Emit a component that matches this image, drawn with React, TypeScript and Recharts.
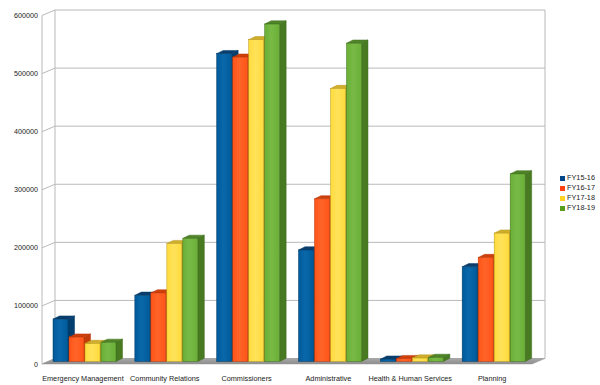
import React from 'react';
import { BarChart, Bar, XAxis, YAxis, CartesianGrid, Legend } from 'recharts';

const categories = [
  'Emergency Management',
  'Community Relations',
  'Commissioners',
  'Administrative',
  'Health & Human Services',
  'Planning',
];
const fy1516 = [73000, 114000, 530000, 192000, 4000, 163000];
const fy1617 = [42000, 118000, 524000, 280000, 5000, 179000];
const fy1718 = [31000, 203000, 554000, 470000, 6000, 221000];
const fy1819 = [33000, 212000, 581000, 548000, 7000, 323000];
const seriesNames = ['FY15-16', 'FY16-17', 'FY17-18', 'FY18-19'];
const yTicks = [0, 100000, 200000, 300000, 400000, 500000, 600000];

const data = categories.map((name, i) => ({
  name,
  s0: fy1516[i],
  s1: fy1617[i],
  s2: fy1718[i],
  s3: fy1819[i],
}));

// front / light highlight / side / top / edge
const palette = [
  { front: '#005a9a', light: '#0a68aa', side: '#003f70', top: '#0b3e6c', edge: '#003866', key: '#004586' },
  { front: '#ff5418', light: '#ff6428', side: '#c43c0a', top: '#cf3f0c', edge: '#b83808', key: '#ff420e' },
  { front: '#ffdb3c', light: '#ffe25a', side: '#c9a722', top: '#cfae2c', edge: '#b8981c', key: '#ffd320' },
  { front: '#6aaf38', light: '#78ba45', side: '#487a22', top: '#4f8528', edge: '#3f6e1c', key: '#579d1c' },
];

const FONT = '"Liberation Sans", Arial, sans-serif';
const DX = 6.5; // bar depth
const DY = 3.2;
// wall offsets relative to bar plane
const FRONT_DX = -2;
const FRONT_DY = 2.5;
const BACK_DX = 11;
const BACK_DY = -3;
const GRID = '#b9b9b9';

function Box3D(props: any) {
  const { x, y, width, height, s, index } = props;
  if (width == null || height == null) return null;
  const c = palette[s];
  const gid = `bg-${s}-${index}`;
  const h = Math.max(height, 1.5);
  const yy = y + height - h;
  return (
    <g>
      <defs>
        <linearGradient id={gid} x1="0" y1="0" x2="1" y2="0">
          <stop offset="0%" stopColor={c.front} />
          <stop offset="45%" stopColor={c.light} />
          <stop offset="100%" stopColor={c.front} />
        </linearGradient>
      </defs>
      <path
        d={`M${x + width},${yy} L${x + width + DX},${yy - DY} L${x + width + DX},${yy + h - DY} L${x + width},${yy + h} Z`}
        fill={c.side}
        stroke={c.edge}
        strokeWidth={0.5}
      />
      <path
        d={`M${x},${yy} L${x + DX},${yy - DY} L${x + width + DX},${yy - DY} L${x + width},${yy} Z`}
        fill={c.top}
        stroke={c.edge}
        strokeWidth={0.5}
        strokeLinejoin="round"
      />
      <rect x={x} y={yy} width={width} height={h} fill={`url(#${gid})`} stroke={c.edge} strokeWidth={0.5} />
    </g>
  );
}

function GridLine(props: any) {
  const { x1, x2, y1, y, height, index } = props;
  const fl = x1 + FRONT_DX;
  const bl = x1 + BACK_DX;
  const fr = x2 + FRONT_DX - 1;
  const br = x2 + BACK_DX - 1;
  const isBottom = Math.abs(y1 - (y + height)) < 0.5;
  const isTop = Math.abs(y1 - y) < 0.5;
  return (
    <g key={`gl-${index}`}>
      <line x1={fl} y1={y1 + FRONT_DY} x2={bl} y2={y1 + BACK_DY} stroke={GRID} strokeWidth={1} />
      <line x1={bl} y1={y1 + BACK_DY} x2={br} y2={y1 + BACK_DY} stroke={GRID} strokeWidth={1} />
      {isTop && (
        <g>
          <line x1={fl} y1={y1 + FRONT_DY} x2={fl} y2={y + height + FRONT_DY} stroke={GRID} strokeWidth={1} />
          <line x1={bl} y1={y1 + BACK_DY} x2={bl} y2={y + height + BACK_DY} stroke={GRID} strokeWidth={1} />
          <line x1={br} y1={y1 + BACK_DY} x2={br} y2={y + height + BACK_DY} stroke={GRID} strokeWidth={1} />
        </g>
      )}
      {isBottom && (
        <g>
          <defs>
            <linearGradient id="floorG" x1="0" y1="0" x2="0" y2="1">
              <stop offset="0%" stopColor="#a8a8a8" />
              <stop offset="100%" stopColor="#8c8c8c" />
            </linearGradient>
          </defs>
          <path
            d={`M${fl},${y1 + FRONT_DY} L${bl},${y1 + BACK_DY} L${br},${y1 + BACK_DY} L${fr},${y1 + FRONT_DY} Z`}
            fill="url(#floorG)"
            stroke="#9a9a9a"
            strokeWidth={0.5}
          />
        </g>
      )}
    </g>
  );
}

function YTick(props: any) {
  const { x, y, payload } = props;
  return (
    <text x={38} y={y + FRONT_DY + 2.5} textAnchor="end" fontFamily={FONT} fontSize={7.2} fill="#222">
      {payload.value}
    </text>
  );
}

function XTick(props: any) {
  const { x, y, payload } = props;
  return (
    <text x={x + FRONT_DX} y={y + 11} textAnchor="middle" fontFamily={FONT} fontSize={7.3} fill="#222">
      {payload.value}
    </text>
  );
}

function LegendBox() {
  return (
    <div style={{ fontFamily: FONT, fontSize: 7.3, color: '#222', lineHeight: '10px' }}>
      {seriesNames.map((n, i) => (
        <div key={n} style={{ display: 'flex', alignItems: 'center', height: 10 }}>
          <span style={{ display: 'inline-block', width: 5, height: 5, background: palette[i].key, marginRight: 2 }} />
          <span>{n}</span>
        </div>
      ))}
    </div>
  );
}

export default function App() {
  return (
    <div style={{ position: 'absolute', left: 0, top: 0, width: 600, height: 385, background: '#fff' }}>
      <BarChart
        width={600}
        height={385}
        data={data}
        margin={{ top: 13, right: 65, left: 0, bottom: 0 }}
        barSize={15}
        barGap={1}
      >
        <CartesianGrid vertical={false} horizontal={(p: any) => <GridLine {...p} />} />
        <XAxis dataKey="name" height={23.5} axisLine={false} tickLine={false} tick={<XTick />} interval={0} />
        <YAxis
          width={44}
          domain={[0, 600000]}
          ticks={yTicks}
          axisLine={false}
          tickLine={false}
          tick={<YTick />}
          interval={0}
        />
        <Legend
          layout="vertical"
          align="center"
          verticalAlign="middle"
          wrapperStyle={{ left: 560, top: 173, width: 40 }}
          content={() => <LegendBox />}
        />
        {['s0', 's1', 's2', 's3'].map((k, s) => (
          <Bar
            key={k}
            dataKey={k}
            name={seriesNames[s]}
            fill={palette[s].key}
            isAnimationActive={false}
            shape={(p: any) => <Box3D {...p} s={s} />}
          />
        ))}
      </BarChart>
    </div>
  );
}
